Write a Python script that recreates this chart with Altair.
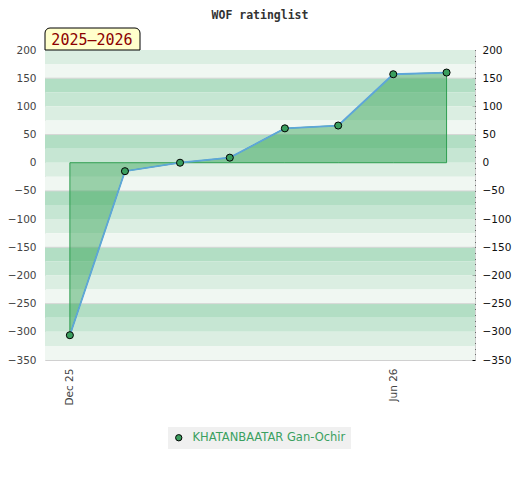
import altair as alt
import pandas as pd

# ---- data ----
months = ["2025-12-01", "2026-01-01", "2026-02-01", "2026-03-01",
          "2026-04-01", "2026-05-01", "2026-06-01", "2026-07-01"]
ratings = [-306, -15, 0, 9, 61, 66, 157, 160]
player = "KHATANBAATAR Gan-Ochir"
season_label = "2025–2026"
chart_title = "WOF ratinglist"

x_tick_dates = ["2025-12-01", "2026-06-01"]
y_domain = [-350, 200]
y_labels = list(range(-350, 201, 50))
y_minor = list(range(-350, 201, 10))
grid_vals = [150, 50, -50, -150, -250]

band_tops = list(range(200, -350, -25))
band_palette = ["#dbeee2", "#f0f7f2", "#b2dec4", "#c6e6d3"]
band_colors = [band_palette[i % 4] for i in range(len(band_tops))]

W, H = 430, 310

df = pd.DataFrame({"date": months, "rating": ratings, "player": [player] * len(months)})
bands = pd.DataFrame({"top": band_tops,
                      "bottom": [t - 25 for t in band_tops],
                      "color": band_colors})
grid = pd.DataFrame({"v": grid_vals})

xscale = alt.Scale(type="utc", domain=["2025-11-17", "2026-07-17"])
yscale = alt.Scale(domain=y_domain, nice=False, zero=False)

x_axis = alt.Axis(values=[pd.Timestamp(d).value // 10**6 for d in x_tick_dates],
                  format="%b %y", labelAngle=-90, title=None, ticks=False,
                  domain=False, grid=False, labelColor="#444", labelFont="DejaVu Sans",
                  labelFontSize=10.5, labelPadding=8)

left_axis = alt.Axis(values=y_labels, title=None, ticks=False, domain=False, grid=False,
                     labelColor="#444", labelFont="DejaVu Sans", labelFontSize=10.5,
                     labelPadding=9)

right_axis = alt.Axis(orient="right", values=y_minor, title=None, domain=False, grid=False,
                      labelExpr="datum.value % 50 == 0 ? datum.label : ''",
                      tickColor="#000", tickSize=3, tickWidth=1, offset=-3,
                      labelColor="#111", labelFont="DejaVu Sans", labelFontSize=10.5,
                      labelPadding=7)

X = alt.X("date:T", scale=xscale, axis=x_axis)

band_layer = alt.Chart(bands).mark_rect().encode(
    x=alt.value(0), x2=alt.value(W),
    y=alt.Y("top:Q", scale=yscale, axis=left_axis),
    y2="bottom:Q",
    color=alt.Color("color:N", scale=None, legend=None),
)

grid_layer = alt.Chart(grid).mark_rule(color="#d6d6d6", strokeWidth=1).encode(
    x=alt.value(0), x2=alt.value(W),
    y=alt.Y("v:Q", scale=yscale, axis=None),
)

area_layer = alt.Chart(df).mark_area(
    color="#2ea04f", fillOpacity=0.45, stroke="#2e9e50", strokeWidth=1
).encode(
    x=X,
    y=alt.Y("rating:Q", scale=yscale, axis=None),
    y2=alt.datum(0),
)

line_layer = alt.Chart(df).mark_line(color="#5ea6da", strokeWidth=1.8).encode(
    x=X,
    y=alt.Y("rating:Q", scale=yscale, axis=right_axis),
)

point_layer = alt.Chart(df).mark_point(
    filled=True, size=50, stroke="#000", strokeWidth=1, opacity=1
).encode(
    x=X,
    y=alt.Y("rating:Q", scale=yscale, axis=None),
    fill=alt.Fill("player:N", scale=alt.Scale(range=["#3a9e5e"]),
                  legend=alt.Legend(orient="none", legendX=123, legendY=377, title=None,
                                    fillColor="#f0f0f0", padding=5,
                                    labelColor="#3aa060", labelFont="DejaVu Sans",
                                    labelFontSize=11.5, labelOffset=8,
                                    symbolStrokeColor="#000",
                                    symbolStrokeWidth=1, symbolSize=40,
                                    symbolType="circle")),
)

box_layer = alt.Chart(pd.DataFrame({"t": [season_label]})).mark_rect(
    fill="#ffffcc", stroke="#000", strokeWidth=1,
    cornerRadiusTopLeft=5, cornerRadiusTopRight=5
).encode(x=alt.value(0), x2=alt.value(95), y=alt.value(-22), y2=alt.value(0))

text_layer = alt.Chart(pd.DataFrame({"t": [season_label]})).mark_text(
    font="DejaVu Sans Mono", fontSize=15, color="#8b0000", align="center", baseline="middle"
).encode(x=alt.value(47), y=alt.value(-10), text="t:N")

chart = alt.layer(
    band_layer, grid_layer, area_layer, line_layer, point_layer, box_layer, text_layer
).resolve_axis(y="independent").properties(
    width=W, height=H,
    title=alt.TitleParams(chart_title, font="DejaVu Sans Mono", fontSize=11.5,
                          fontWeight="bold", color="#333", anchor="middle", offset=6),
    autosize=alt.AutoSizeParams(type="none"),
    padding={"left": 37, "top": 42, "right": 37, "bottom": 100},
).configure_view(stroke="#d0d0d0")

chart.save("out.html", embed_options={"renderer": "svg", "actions": False})
